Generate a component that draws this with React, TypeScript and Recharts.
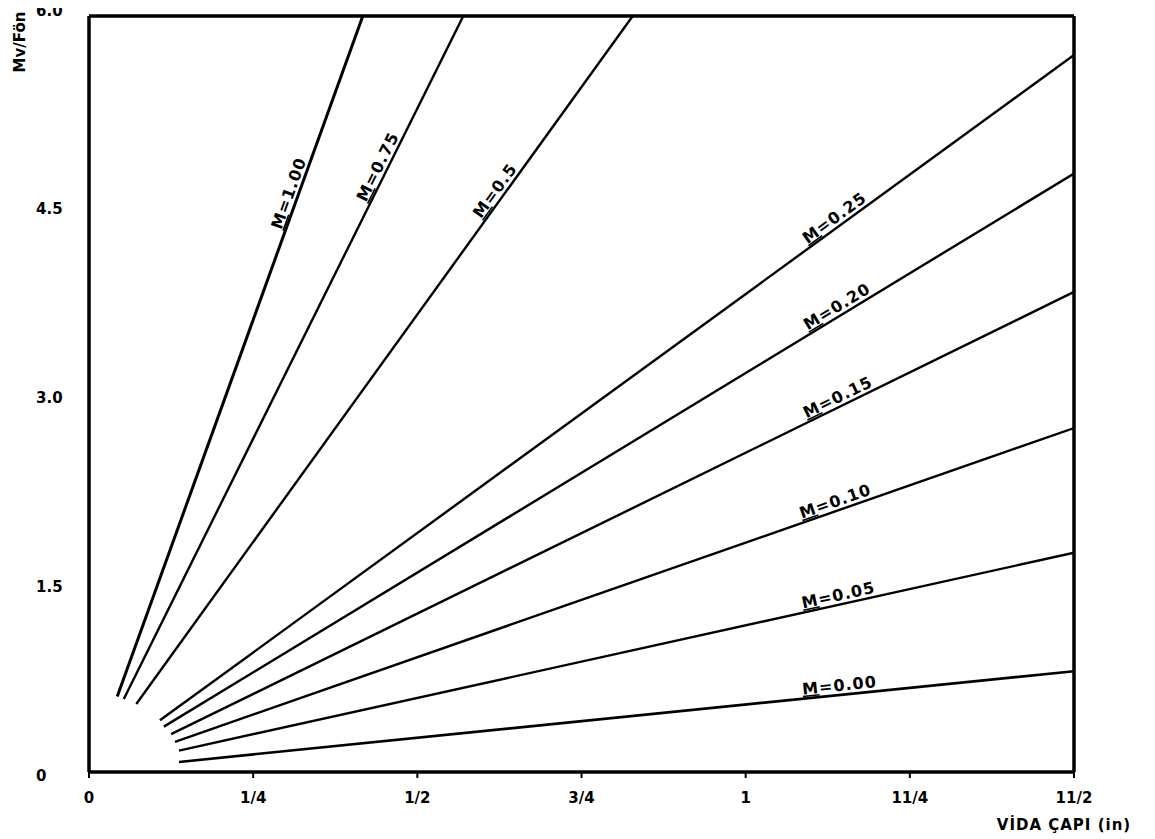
import React from "react";
import { LineChart, Line, XAxis, YAxis, ReferenceLine, ReferenceDot, Label } from "recharts";

// ---- layout constants ----
const W = 1147;
const H = 839;
const MARGIN = { top: 16, right: 81, bottom: 0, left: 0 };
const Y_AXIS_W = 81;
const X_AXIS_H = 67;
const PLOT_W = W - MARGIN.right - MARGIN.left - Y_AXIS_W;
const PLOT_H = H - MARGIN.top - MARGIN.bottom - X_AXIS_H;
const X_MAX = 1.5;
const Y_MAX = 6;
const FONT = "'DejaVu Sans', sans-serif";

// ---- data ----
const X_TICKS = [0, 0.25, 0.5, 0.75, 1, 1.25, 1.5];
const X_TICK_LABELS = ["0", "1/4", "1/2", "3/4", "1", "11/4", "11/2"];
const Y_TICKS = [0, 1.5, 3, 4.5, 6];
const Y_TICK_LABELS = ["0", "1.5", "3.0", "4.5", "6.0"];

const SERIES_NAMES = ["1.00", "0.75", "0.5", "0.25", "0.20", "0.15", "0.10", "0.05", "0.00"];

const m100 = [{ x: 0.043, y: 0.6 }, { x: 0.417, y: 6.0 }];
const m075 = [{ x: 0.053, y: 0.58 }, { x: 0.57, y: 6.0 }];
const m050 = [{ x: 0.072, y: 0.54 }, { x: 0.828, y: 6.0 }];
const m025 = [{ x: 0.108, y: 0.41 }, { x: 1.5, y: 5.69 }];
const m020 = [{ x: 0.114, y: 0.36 }, { x: 1.5, y: 4.75 }];
const m015 = [{ x: 0.125, y: 0.3 }, { x: 1.5, y: 3.81 }];
const m010 = [{ x: 0.131, y: 0.24 }, { x: 1.5, y: 2.73 }];
const m005 = [{ x: 0.137, y: 0.17 }, { x: 1.5, y: 1.74 }];
const m000 = [{ x: 0.137, y: 0.08 }, { x: 1.5, y: 0.8 }];

const SERIES = [m100, m075, m050, m025, m020, m015, m010, m005, m000];
const STROKE_W = [3, 2.4, 2.4, 2.4, 2.4, 2.4, 2.4, 2.4, 2.6];
// fraction along each line where its label sits
const LABEL_T = [0.735, 0.773, 0.738, 0.744, 0.745, 0.743, 0.738, 0.739, 0.739];

function angleOf(data: { x: number; y: number }[]) {
  const a = data[0];
  const b = data[data.length - 1];
  const dx = ((b.x - a.x) * PLOT_W) / X_MAX;
  const dy = (-(b.y - a.y) * PLOT_H) / Y_MAX;
  return (Math.atan2(dy, dx) * 180) / Math.PI;
}

function pointAt(data: { x: number; y: number }[], t: number) {
  const a = data[0];
  const b = data[data.length - 1];
  return { x: a.x + (b.x - a.x) * t, y: a.y + (b.y - a.y) * t };
}

const makeLineLabel = (name: string, angle: number) => (props: any) => {
  const vb = props.viewBox || {};
  const cx = (vb.x || 0) + (vb.width || 0) / 2;
  const cy = (vb.y || 0) + (vb.height || 0) / 2;
  return (
    <text
      transform={`translate(${cx},${cy}) rotate(${angle})`}
      x={0}
      y={-4}
      textAnchor="middle"
      fontFamily={FONT}
      fontWeight={700}
      fontSize={16}
      letterSpacing={1}
      fill="#000"
    >
      <tspan textDecoration="underline">M</tspan>
      <tspan>{"=" + name}</tspan>
    </text>
  );
};

const YTick = (props: any) => {
  const { x, y, payload } = props;
  const idx = Y_TICKS.indexOf(payload.value);
  const label = idx >= 0 ? Y_TICK_LABELS[idx] : String(payload.value);
  const dy = payload.value === Y_MAX ? -5 : 4;
  return (
    <text
      x={x - 53}
      y={y + dy}
      textAnchor="start"
      dominantBaseline="central"
      fontFamily={FONT}
      fontWeight={700}
      fontSize={15}
      fill="#000"
    >
      {label}
    </text>
  );
};

const YAxisTitle = (props: any) => {
  const vb = props.viewBox || { x: 0, y: 0 };
  const x = vb.x + 12;
  const y = vb.y + 26;
  return (
    <text
      transform={`translate(${x},${y}) rotate(-90)`}
      textAnchor="middle"
      dominantBaseline="central"
      fontFamily={FONT}
      fontWeight={700}
      fontSize={15}
      fill="#000"
    >
      Mv/Fön
    </text>
  );
};

const XAxisTitle = (props: any) => {
  const vb = props.viewBox || { x: 0, y: 0, width: 0 };
  const x = vb.x + vb.width - 10;
  const y = vb.y + 53;
  return (
    <text
      x={x}
      y={y}
      textAnchor="middle"
      dominantBaseline="central"
      fontFamily={FONT}
      fontWeight={700}
      fontSize={15}
      letterSpacing={1}
      fill="#000"
    >
      VİDA ÇAPI (in)
    </text>
  );
};

export default function App() {
  return (
    <div style={{ width: W, height: H, marginTop: -8, fontFamily: FONT, background: "#fff" }}>
      <LineChart width={W} height={H} margin={MARGIN}>
        <XAxis
          type="number"
          dataKey="x"
          domain={[0, X_MAX]}
          ticks={X_TICKS}
          allowDataOverflow
          height={X_AXIS_H}
          tickFormatter={(v: number) => {
            const i = X_TICKS.indexOf(v);
            return i >= 0 ? X_TICK_LABELS[i] : String(v);
          }}
          axisLine={{ stroke: "#000", strokeWidth: 3.5 }}
          tickLine={{ stroke: "#000", strokeWidth: 2 }}
          tickSize={6}
          tickMargin={14}
          tick={{ fill: "#000", fontSize: 15, fontWeight: 700, fontFamily: FONT }}
        >
          <Label content={XAxisTitle} />
        </XAxis>
        <YAxis
          type="number"
          dataKey="y"
          domain={[0, Y_MAX]}
          ticks={Y_TICKS}
          allowDataOverflow
          width={Y_AXIS_W}
          axisLine={{ stroke: "#000", strokeWidth: 3.5 }}
          tickLine={false}
          tickSize={0}
          tickMargin={0}
          tick={<YTick />}
        >
          <Label content={YAxisTitle} />
        </YAxis>
        <ReferenceLine y={Y_MAX} stroke="#000" strokeWidth={3.5} ifOverflow="visible" />
        <ReferenceLine x={X_MAX} stroke="#000" strokeWidth={3.5} ifOverflow="visible" />
        {SERIES.map((d, i) => (
          <Line
            key={SERIES_NAMES[i]}
            data={d}
            dataKey="y"
            type="linear"
            stroke="#000"
            strokeWidth={STROKE_W[i]}
            dot={false}
            activeDot={false}
            isAnimationActive={false}
          />
        ))}
        {SERIES.map((d, i) => {
          const p = pointAt(d, LABEL_T[i]);
          return (
            <ReferenceDot
              key={"lbl" + i}
              x={p.x}
              y={p.y}
              r={1}
              fill="none"
              stroke="none"
              label={makeLineLabel(SERIES_NAMES[i], angleOf(d))}
            />
          );
        })}
      </LineChart>
    </div>
  );
}
